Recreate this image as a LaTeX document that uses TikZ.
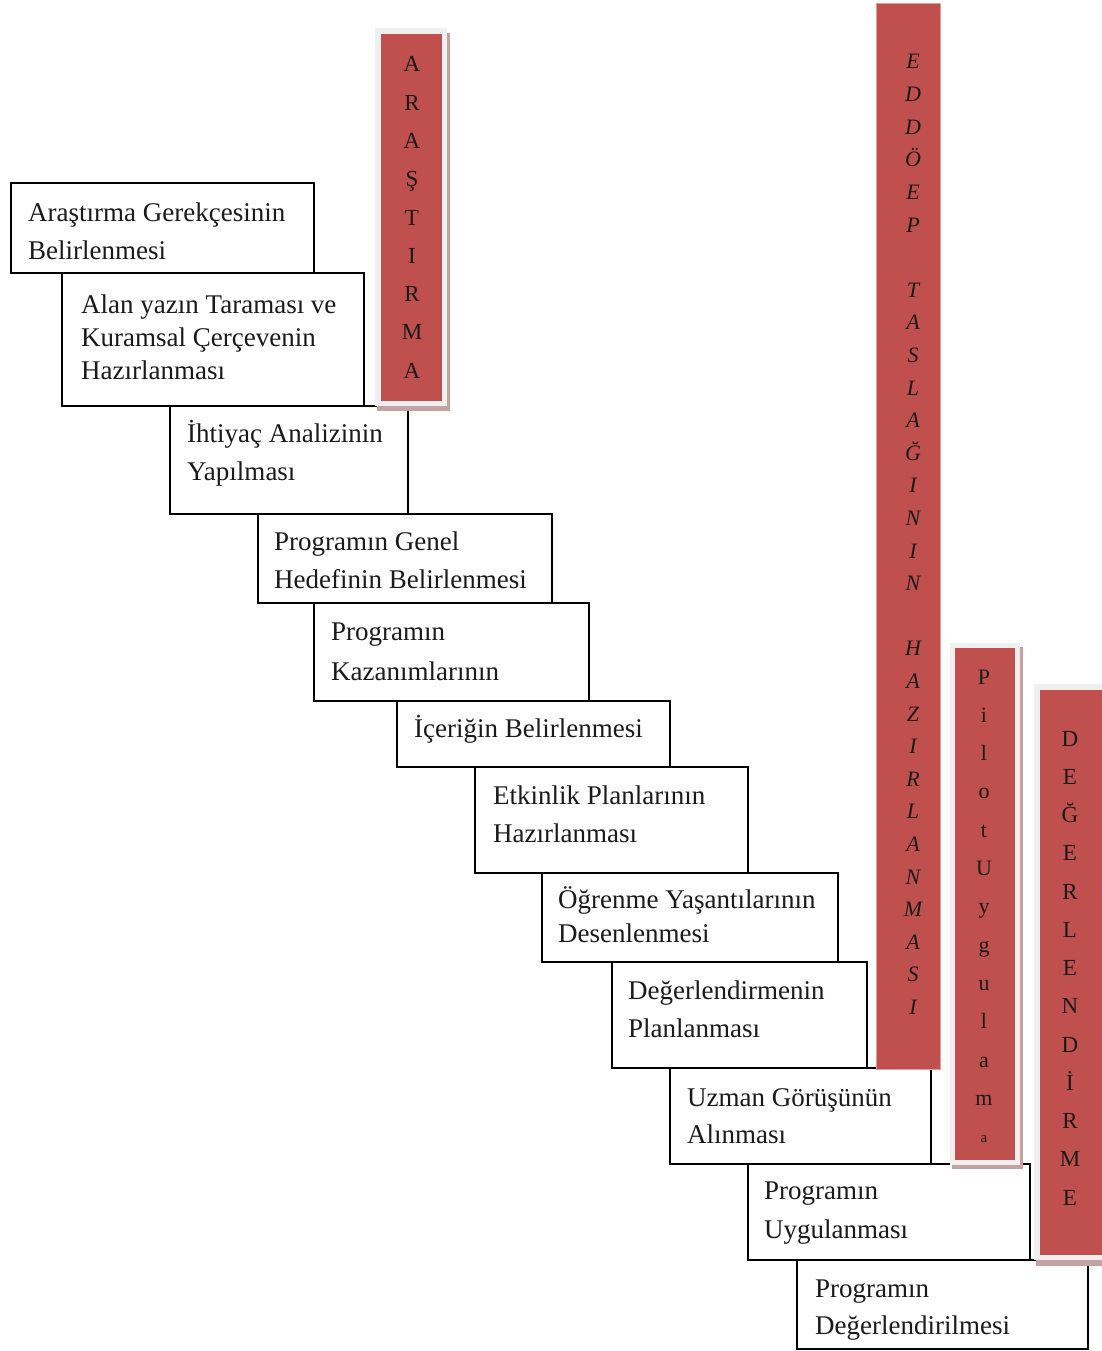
\documentclass[tikz,border=0pt]{standalone}
\usepackage{fontspec}
\setmainfont{Liberation Serif}
\definecolor{barred}{HTML}{C0504D}
\definecolor{barframe}{HTML}{F0F0F0}
\definecolor{barshadow}{HTML}{C4A2A2}
\definecolor{ink}{HTML}{1A1A1A}
\begin{document}
\begin{tikzpicture}[x=1pt,y=-1pt,
  stepbox/.style={draw=black, line width=1.3pt, fill=white, rectangle, inner sep=0pt, outer sep=0pt, anchor=north west},
  boxtxt/.style={anchor=base west, inner sep=0pt, text=ink, font=\fontsize{27}{33}\selectfont},
  redbar/.style={fill=barred, rectangle, inner sep=0pt, outer sep=0pt, anchor=north west},
  vlet/.style={anchor=base, inner sep=0pt, text=ink, font=\fontsize{23}{23}\selectfont},
  vital/.style={anchor=base, inner sep=0pt, text=ink, font=\fontsize{22}{22}\selectfont\itshape},
  vsmall/.style={anchor=base, inner sep=0pt, text=ink, font=\fontsize{22}{22}\selectfont}]
\useasboundingbox (0,0) rectangle (1102,1351);
\fill[white] (0,0) rectangle (1102,1351);

% staircase boxes
\node[stepbox, minimum width=303pt, minimum height=90pt]  (b1)  at (11,183) {};
\node[stepbox, minimum width=302pt, minimum height=133pt] (b2)  at (62,273) {};
\node[stepbox, minimum width=238pt, minimum height=108pt] (b3)  at (170,406) {};
\node[stepbox, minimum width=294pt, minimum height=89pt]  (b4)  at (258,514) {};
\node[stepbox, minimum width=275pt, minimum height=98pt]  (b5)  at (314,603) {};
\node[stepbox, minimum width=273pt, minimum height=66pt]  (b6)  at (397,701) {};
\node[stepbox, minimum width=273pt, minimum height=106pt] (b7)  at (475,767) {};
\node[stepbox, minimum width=296pt, minimum height=89pt]  (b8)  at (542,873) {};
\node[stepbox, minimum width=255pt, minimum height=106pt] (b9)  at (612,962) {};
\node[stepbox, minimum width=261pt, minimum height=96pt]  (b10) at (670,1068) {};
\node[stepbox, minimum width=282pt, minimum height=96pt]  (b11) at (748,1164) {};
\node[stepbox, minimum width=291pt, minimum height=89pt]  (b12) at (797,1260) {};

% box texts
\node[boxtxt] (t1a) at (28,221) {Araştırma Gerekçesinin};
\node[boxtxt] (t1b) at (28,259) {Belirlenmesi};
\node[boxtxt] (t2a) at (81,313) {Alan yazın Taraması ve};
\node[boxtxt] (t2b) at (81,346) {Kuramsal Çerçevenin};
\node[boxtxt] (t2c) at (81,379) {Hazırlanması};
\node[boxtxt] (t3a) at (187,442) {İhtiyaç Analizinin};
\node[boxtxt] (t3b) at (187,480) {Yapılması};
\node[boxtxt] (t4a) at (274,550) {Programın Genel};
\node[boxtxt] (t4b) at (274,588) {Hedefinin Belirlenmesi};
\node[boxtxt] (t5a) at (331,640) {Programın};
\node[boxtxt] (t5b) at (331,680) {Kazanımlarının};
\node[boxtxt] (t6a) at (414,737) {İçeriğin Belirlenmesi};
\node[boxtxt] (t7a) at (493,804) {Etkinlik Planlarının};
\node[boxtxt] (t7b) at (493,842) {Hazırlanması};
\node[boxtxt] (t8a) at (558,908) {Öğrenme Yaşantılarının};
\node[boxtxt] (t8b) at (558,942) {Desenlenmesi};
\node[boxtxt] (t9a) at (628,999) {Değerlendirmenin};
\node[boxtxt] (t9b) at (628,1037) {Planlanması};
\node[boxtxt] (t10a) at (687,1106) {Uzman Görüşünün};
\node[boxtxt] (t10b) at (687,1143) {Alınması};
\node[boxtxt] (t11a) at (764,1199) {Programın};
\node[boxtxt] (t11b) at (764,1238) {Uygulanması};
\node[boxtxt] (t12a) at (815,1297) {Programın};
\node[boxtxt] (t12b) at (815,1334) {Değerlendirilmesi};

% ARASTIRMA bar
\fill[barshadow] (377,33) rectangle (450,411);
\fill[barframe] (375,28) rectangle (447,406);
\node[redbar, minimum width=61pt, minimum height=367pt] (arbar) at (381,34) {};
\foreach \l [count=\i from 0] in {A,R,A,Ş,T,I,R,M,A}
  \node[vlet] (ar\i) at (412,{72+38.25*\i}) {\l};

% EDDOEP bar
\node[redbar, draw=barred!55, line width=0.8pt, minimum width=64pt, minimum height=1066pt] (edbar) at (876,3) {};
\foreach \i/\l in {0/E,1/D,2/D,3/Ö,4/E,5/P,7/T,8/A,9/S,10/L,11/A,12/Ğ,13/I,14/N,15/I,16/N,18/H,19/A,20/Z,21/I,22/R,23/L,24/A,25/N,26/M,27/A,28/S,29/I}
  \node[vital] (ed\i) at (913,{69+32.6*\i}) {\l};

% Pilot Uygulama bar
\fill[barshadow] (952,647) rectangle (1023,1169);
\fill[barframe] (950,643) rectangle (1020,1165);
\node[redbar, minimum width=60pt, minimum height=512pt] (pibar) at (955,648) {};
\foreach \l [count=\i from 0] in {P,i,l,o,t,U,y,g,u,l,a,m}
  \node[vsmall] (pi\i) at (984,{684+38.3*\i}) {\l};
\node[vsmall, font=\fontsize{15}{15}\selectfont] (pi12) at (984,1142) {a};

% DEGERLENDIRME bar
\fill[barshadow] (1036,688) rectangle (1106,1266);
\fill[barframe] (1034,684) rectangle (1104,1260);
\node[redbar, minimum width=64pt, minimum height=565pt] (debar) at (1040,690) {};
\foreach \l [count=\i from 0] in {D,E,Ğ,E,R,L,E,N,D,İ,R,M,E}
  \node[vlet] (de\i) at (1070,{746+38.25*\i}) {\l};
\end{tikzpicture}
\end{document}
